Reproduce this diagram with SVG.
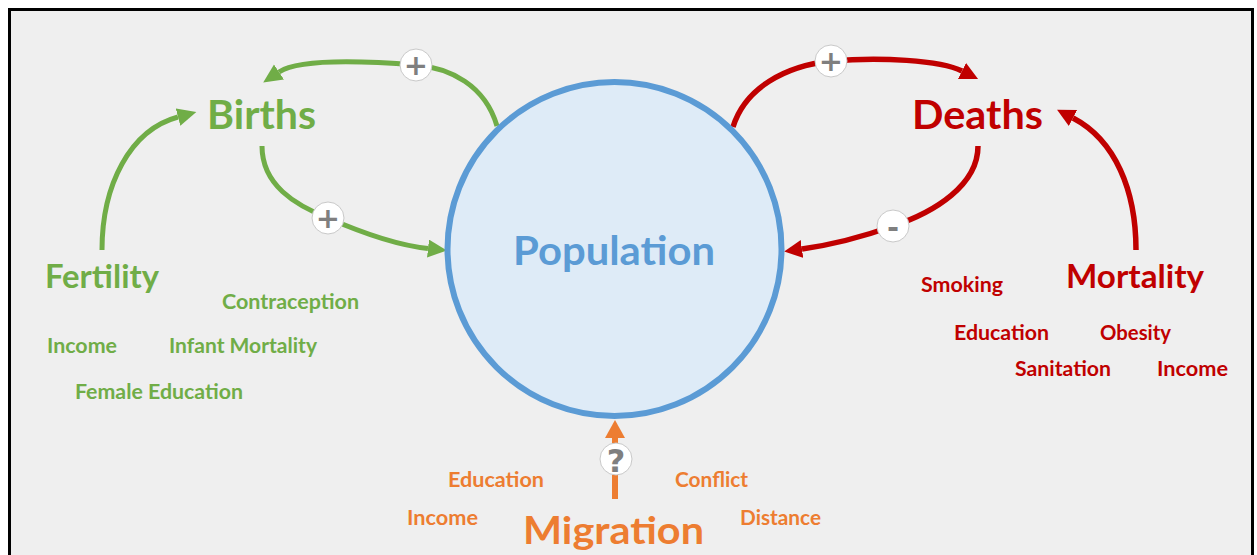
<svg xmlns="http://www.w3.org/2000/svg" width="1257" height="555" viewBox="0 0 1257 555">
<style>
text{font-family:Lato,"Open Sans","Liberation Sans",sans-serif;font-weight:bold}
.g{fill:#70ad47}.r{fill:#c00000}.o{fill:#ed7d31}.b{fill:#5b9bd5}
.big{font-size:40px}.mid{font-size:32px}.sm{font-size:20.5px}
.cg{fill:none;stroke:#70ad47;stroke-width:5}
.cr{fill:none;stroke:#c00000;stroke-width:5.5}
.co{fill:none;stroke:#ed7d31;stroke-width:6}
.sign circle{fill:#ffffff;stroke:#c9c9c9;stroke-width:1}
.sign text{fill:#7f7f7f;font-family:"DejaVu Sans","Liberation Sans",sans-serif;font-weight:bold;text-anchor:middle}
</style>
<defs>
<marker id="ag" markerUnits="userSpaceOnUse" markerWidth="20" markerHeight="20" refX="0" refY="9" orient="auto"><path d="M0,0 L19,9 L0,18 z" fill="#70ad47"/></marker>
<marker id="ar" markerUnits="userSpaceOnUse" markerWidth="20" markerHeight="20" refX="0" refY="9" orient="auto"><path d="M0,0 L18,9 L0,18 z" fill="#c00000"/></marker>
<marker id="ao" markerUnits="userSpaceOnUse" markerWidth="22" markerHeight="22" refX="0" refY="10" orient="auto"><path d="M0,0 L18,10 L0,20 z" fill="#ed7d31"/></marker>
</defs>
<rect x="0" y="0" width="1257" height="555" fill="#ffffff"/>
<rect x="9.5" y="9.5" width="1243" height="600" fill="#efefef" stroke="#000000" stroke-width="3"/>

<g id="connectors">
<path class="cg" d="M497,126 C485,85 450,68 416,65 C365,61 300,58 279,72" marker-end="url(#ag)"/>
<path class="cg" d="M262,146 C262,185 295,205 328,218 C360,232 395,245 428,248.5" marker-end="url(#ag)"/>
<path class="cr" d="M733,127 C745,88 785,66 831,61 C880,57 940,60 962,71" marker-end="url(#ar)"/>
<path class="cr" d="M978,146 C978,185 935,212 893,226 C865,236 830,245 802,249" marker-end="url(#ar)"/>
<path class="cg" d="M102,250 C102,185 130,130 178,117" marker-end="url(#ag)"/>
<path class="cr" d="M1136,250 C1136,190 1115,140 1073,118" marker-end="url(#ar)"/>
<path class="co" d="M615,499 L615,438" marker-end="url(#ao)"/>
<g class="sign">
<circle cx="416" cy="65" r="16"/><text x="416" y="75" font-size="29">+</text>
<circle cx="328" cy="218" r="16"/><text x="328" y="228" font-size="29">+</text>
<circle cx="831" cy="61" r="16"/><text x="831" y="71" font-size="29">+</text>
<circle cx="893" cy="226" r="16"/><text x="893" y="237" font-size="29">-</text>
<circle cx="616" cy="459" r="16"/><text x="616" y="472" font-size="32">?</text>
</g>
</g>

<g id="node-population">
<circle cx="614.5" cy="249" r="167" fill="#deebf7" stroke="#5b9bd5" stroke-width="6"/>
<text class="b big" x="513" y="265" textLength="202" lengthAdjust="spacingAndGlyphs">Population</text>
</g>
<g id="node-births"><text class="g big" x="207" y="129" textLength="109" lengthAdjust="spacingAndGlyphs">Births</text></g>
<g id="node-deaths"><text class="r big" x="912" y="129" textLength="131" lengthAdjust="spacingAndGlyphs">Deaths</text></g>
<g id="node-fertility">
<text class="g mid" x="45" y="288" textLength="114" lengthAdjust="spacingAndGlyphs">Fertility</text>
<text class="g sm" x="222" y="309" textLength="137" lengthAdjust="spacingAndGlyphs">Contraception</text>
<text class="g sm" x="47" y="353" textLength="70" lengthAdjust="spacingAndGlyphs">Income</text>
<text class="g sm" x="169" y="353" textLength="148" lengthAdjust="spacingAndGlyphs">Infant Mortality</text>
<text class="g sm" x="75" y="399" textLength="168" lengthAdjust="spacingAndGlyphs">Female Education</text>
</g>
<g id="node-mortality">
<text class="r mid" x="1066" y="288" textLength="138" lengthAdjust="spacingAndGlyphs">Mortality</text>
<text class="r sm" x="921" y="292" textLength="82" lengthAdjust="spacingAndGlyphs">Smoking</text>
<text class="r sm" x="954" y="340" textLength="95" lengthAdjust="spacingAndGlyphs">Education</text>
<text class="r sm" x="1100" y="340" textLength="71" lengthAdjust="spacingAndGlyphs">Obesity</text>
<text class="r sm" x="1015" y="376" textLength="96" lengthAdjust="spacingAndGlyphs">Sanitation</text>
<text class="r sm" x="1157" y="376" textLength="71" lengthAdjust="spacingAndGlyphs">Income</text>
</g>
<g id="node-migration">
<text class="o" x="523" y="544" font-size="38" textLength="181" lengthAdjust="spacingAndGlyphs">Migration</text>
<text class="o sm" x="448" y="487" textLength="96" lengthAdjust="spacingAndGlyphs">Education</text>
<text class="o sm" x="675" y="487" textLength="73" lengthAdjust="spacingAndGlyphs">Conflict</text>
<text class="o sm" x="407" y="525" textLength="71" lengthAdjust="spacingAndGlyphs">Income</text>
<text class="o sm" x="740" y="525" textLength="81" lengthAdjust="spacingAndGlyphs">Distance</text>
</g>
</svg>
